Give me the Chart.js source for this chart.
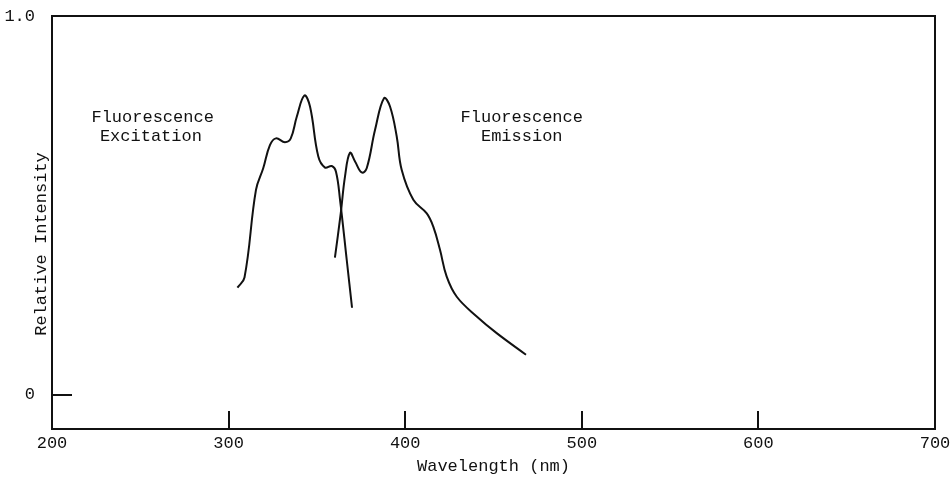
<!DOCTYPE html>
<html>
<head>
<meta charset="utf-8">
<script src="https://cdn.jsdelivr.net/npm/chart.js@4"></script>
<style>
  html, body { margin: 0; padding: 0; background: #fff; }
  #wrap { width: 950px; height: 477px; }
</style>
</head>
<body>
<div id="wrap"><canvas id="chart" width="950" height="477"></canvas></div>
<script>
// Excitation spectrum (wavelength nm / relative intensity)
const excitationX = [305, 309, 315.5, 319.6, 323.4, 326.8, 331.9, 335.2, 338.6, 342.9, 346.1, 350.8, 354.6, 358.4, 360.8, 363.1, 366.9, 369.9];
const excitationY = [0.283, 0.31, 0.541, 0.598, 0.659, 0.677, 0.667, 0.677, 0.734, 0.79, 0.761, 0.629, 0.6, 0.604, 0.589, 0.515, 0.356, 0.23];

// Emission spectrum
const emissionX = [360.2, 363.5, 365.9, 368.7, 371.6, 375.4, 378.2, 382.9, 388, 391.4, 395.2, 398, 404.6, 412.2, 415.9, 419.7, 423.5, 429.2, 440.5, 451.8, 468.4];
const emissionY = [0.362, 0.479, 0.576, 0.639, 0.616, 0.587, 0.598, 0.699, 0.783, 0.761, 0.682, 0.594, 0.515, 0.479, 0.444, 0.383, 0.312, 0.259, 0.207, 0.163, 0.106];

// Axis ticks
const xTicks = [200, 300, 400, 500, 600, 700];
const yTicks = [0, 1];
const yTickLabels = ["0", "1.0"];

const FONT = "'Liberation Mono', 'Courier New', monospace";
const SIZE = 17;
const INK = "#111";

const toPoints = (xs, ys) => xs.map((x, i) => ({ x: x, y: ys[i] }));

// box, inward tick marks and free text
const framePlugin = {
  id: "frame",
  afterDraw(chart) {
    const ctx = chart.ctx;
    const a = chart.chartArea;
    const xs = chart.scales.x;
    const ys = chart.scales.y;
    ctx.save();
    ctx.strokeStyle = INK;
    ctx.lineWidth = 2;
    ctx.strokeRect(a.left, a.top, a.right - a.left, a.bottom - a.top);

    // x tick marks pointing up from the bottom
    ctx.beginPath();
    xTicks.slice(1, -1).forEach(v => {
      const px = Math.round(xs.getPixelForValue(v));
      ctx.moveTo(px, a.bottom);
      ctx.lineTo(px, a.bottom - 18);
    });
    // y tick mark at zero
    const y0 = Math.round(ys.getPixelForValue(0));
    ctx.moveTo(a.left, y0);
    ctx.lineTo(a.left + 20, y0);
    ctx.stroke();

    ctx.fillStyle = INK;
    ctx.font = SIZE + "px " + FONT;
    ctx.textAlign = "center";
    ctx.textBaseline = "middle";
    const put = (txt, x, y) => ctx.fillText(txt, xs.getPixelForValue(x), ys.getPixelForValue(y));
    put("Fluorescence", 257, 0.731);
    put("Excitation", 256, 0.683);
    put("Fluorescence", 466, 0.731);
    put("Emission", 466, 0.683);

    // y axis title sits between the tick labels and the axis
    ctx.translate(41, 244);
    ctx.rotate(-Math.PI / 2);
    ctx.fillText("Relative Intensity", 0, 0);
    ctx.restore();
  }
};

new Chart(document.getElementById("chart"), {
  type: "line",
  data: {
    datasets: [
      {
        label: "Excitation",
        data: toPoints(excitationX, excitationY),
        borderColor: INK,
        borderWidth: 2,
        pointRadius: 0,
        tension: 0.4,
        fill: false
      },
      {
        label: "Emission",
        data: toPoints(emissionX, emissionY),
        borderColor: INK,
        borderWidth: 2,
        pointRadius: 0,
        tension: 0.4,
        fill: false
      }
    ]
  },
  options: {
    responsive: false,
    animation: false,
    layout: { padding: { top: 16, right: 15, left: 0, bottom: 0 } },
    plugins: {
      legend: { display: false },
      tooltip: { enabled: false }
    },
    scales: {
      x: {
        type: "linear",
        min: 200,
        max: 700,
        grid: { display: false, drawTicks: false },
        border: { display: false },
        afterBuildTicks: s => { s.ticks = xTicks.map(v => ({ value: v })); },
        afterFit: s => { s.height = 48; s.paddingLeft = 0; s.paddingRight = 0; },
        ticks: {
          padding: 4,
          color: INK,
          font: { family: FONT, size: SIZE },
          maxRotation: 0
        },
        title: {
          display: true,
          text: "Wavelength (nm)",
          color: INK,
          font: { family: FONT, size: SIZE },
          padding: { top: 0, bottom: 0 }
        }
      },
      y: {
        type: "linear",
        min: -0.09,
        max: 1.0,
        grid: { display: false, drawTicks: false },
        border: { display: false },
        afterBuildTicks: s => { s.ticks = yTicks.map(v => ({ value: v })); },
        afterFit: s => { s.width = 52; s.paddingTop = 0; s.paddingBottom = 0; },
        ticks: {
          padding: 17,
          color: INK,
          font: { family: FONT, size: SIZE },
          callback: v => yTickLabels[yTicks.indexOf(v)]
        }
      }
    }
  },
  plugins: [framePlugin]
});
</script>
</body>
</html>
